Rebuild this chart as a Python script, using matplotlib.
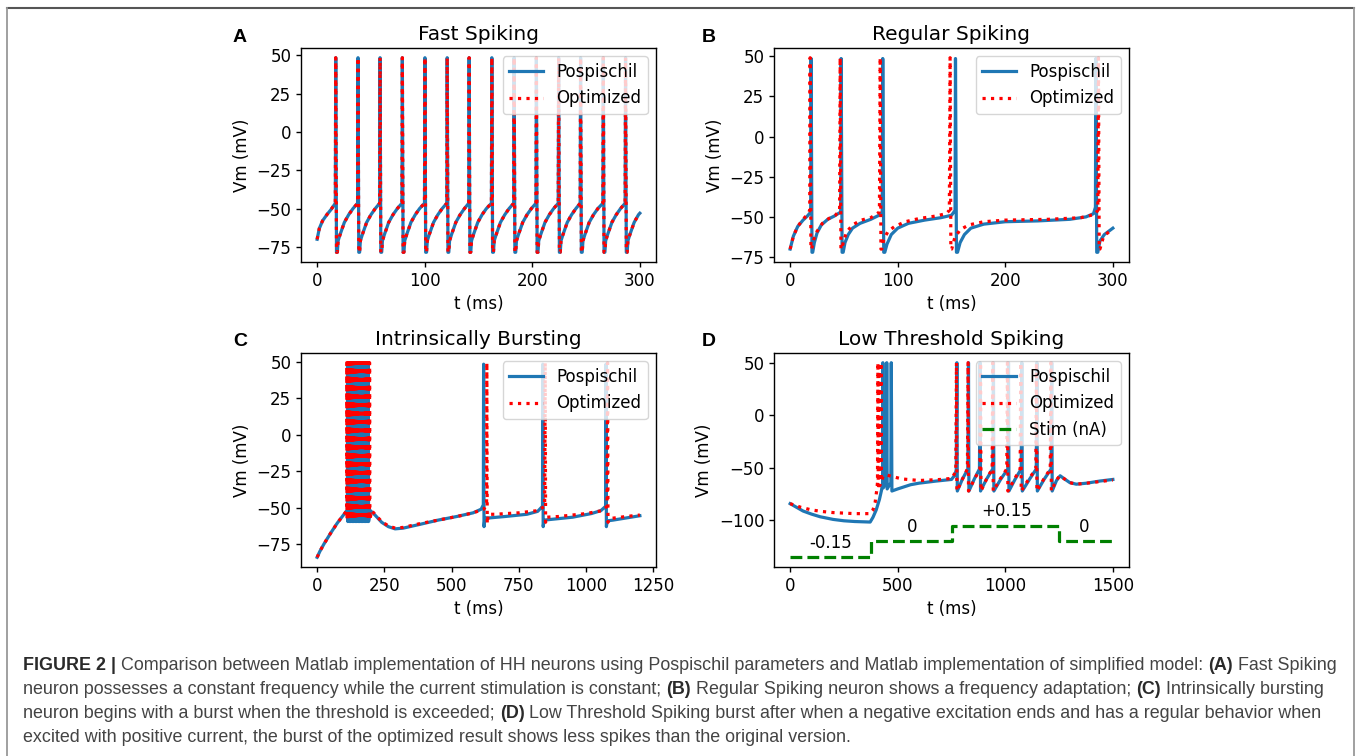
import numpy as np
import matplotlib
matplotlib.use("Agg")
import matplotlib.pyplot as plt
from matplotlib.lines import Line2D

BLUE = "#1f77b4"

# ---------------- A: fast spiking ----------------
fs_spikes = [17.3, 38.0, 58.5, 79.2, 100.2, 120.9, 141.3, 162.4, 183.1,
             203.8, 224.5, 244.9, 266.0, 286.7]
fs_opt_spikes = [17.3, 38.0, 58.5, 79.2, 100.2, 120.9, 141.3, 162.4, 183.1,
                 203.8, 224.5, 244.9, 266.0, 286.7]
fs_peak = 48.5
fs_start_t = [0, 2, 5, 9, 13]
fs_start_v = [-70, -63, -58, -54, -50.5]
fs_thr = -46.5
fs_rec_dt = [0.7, 1.5, 2.2, 4, 8, 12, 16]
fs_rec_v = [-78.5, -78.5, -71, -67, -59, -54, -50]
fs_end_t, fs_end_v = 300, -53

# ---------------- B: regular spiking ----------------
rs_spikes = [19.5, 47.4, 86.1, 153.7, 284.2]
rs_pts = [(0, -70), (3, -62), (7, -56), (12, -52), (16, -49.5), (19.1, -47),
          (20.3, -72), (21, -72), (22.5, -66), (25, -60), (29, -55), (35, -51.5),
          (41, -49.5), (47.0, -47), (48.3, -72), (49.3, -72), (51, -66), (54, -61),
          (58, -57), (65, -54), (75, -51.5), (85.6, -48), (87, -72), (88, -72),
          (90, -67), (94, -61), (100, -57), (110, -54), (125, -52), (140, -50.5),
          (150, -49), (153.3, -46), (154.6, -72), (155.6, -72), (158, -66),
          (162, -61), (168, -57), (180, -54.5), (200, -53), (230, -52.5),
          (260, -51.5), (275, -50), (282, -48), (283.8, -44), (285, -72),
          (286, -72), (288, -65), (292, -61), (300, -57)]
rs_opt_spikes = [18.6, 46.5, 83.7, 148.7, 286.6]
rs_opt_pts = [(0, -70), (3, -62), (7, -56), (12, -51.5), (16, -48.5), (18.2, -46),
              (19.3, -70), (20, -70), (22, -64), (25, -59), (30, -54), (36, -51),
              (42, -49), (46, -46), (47.2, -70), (48, -70), (50, -64), (53, -59),
              (58, -55), (66, -52), (75, -50.5), (83, -47), (84.4, -70), (85.2, -70),
              (87, -64), (91, -59), (97, -56), (107, -53), (120, -51), (135, -49.5),
              (145, -48), (148, -46), (149.4, -70), (150.2, -70), (153, -63),
              (158, -58), (166, -55), (180, -53), (200, -52), (240, -51.5),
              (270, -50.5), (283, -48.5), (286, -46), (287.3, -70), (288, -70),
              (291, -63), (295, -60), (300, -58)]
rs_peak, rs_opt_peak = 48.5, 49

# ---------------- C: intrinsically bursting ----------------
ib_pre = [(0, -84), (10, -80), (25, -75), (50, -67.5), (75, -60.5),
          (100, -54.5), (108, -52.5)]
ib_burst = [113, 118.5, 124, 129.5, 135, 140.5, 146, 151.5, 157, 162.5,
            168, 173.5, 179, 184.5, 190]
ib_opt_burst = [110, 115, 120, 125, 130, 135, 140, 145, 150, 155, 160,
                165, 170, 175, 180, 185, 190, 195]
ib_spikes = [619, 839, 1074]
ib_opt_spikes = [631, 848, 1080]
ib_post = [(198, -52), (215, -55), (240, -60), (265, -63), (290, -64.5),
           (320, -64), (380, -61.5), (450, -58.5), (520, -56), (580, -53.5),
           (610, -51), (618, -48), (620.5, -63), (624, -57), (640, -57),
           (700, -56), (780, -54.5), (820, -52.5), (838, -49), (840.5, -63),
           (844, -58.5), (870, -58), (950, -56.5), (1020, -54), (1055, -52),
           (1073, -49), (1075.5, -63), (1079, -59), (1100, -58.5), (1150, -57),
           (1200, -55.5)]
ib_opt_post = [(203, -52), (215, -54.5), (240, -59.5), (265, -62.5), (290, -64),
               (320, -63.5), (380, -61), (450, -58.5), (520, -56), (580, -53.5),
               (620, -51), (630, -48), (632.5, -61), (636, -54.5), (660, -54.5),
               (750, -53.5), (820, -52), (846, -49), (849.5, -60), (853, -56.5),
               (900, -56), (1000, -54), (1060, -52), (1078, -49), (1081.5, -60),
               (1085, -57.5), (1150, -56), (1200, -55)]
ib_thr, ib_trough, ib_opt_trough = -52, -59.5, -58
ib_peak, ib_opt_peak = 48.5, 49.5

# ---------------- D: low threshold spiking ----------------
lts_spikes = [431, 449, 470, 775, 829, 883, 945, 1015, 1077, 1147, 1216]
lts_pts = [(0, -84), (30, -87.5), (60, -91), (100, -94), (140, -96.5), (200, -99),
           (250, -100.3), (300, -101), (372, -101.5), (385, -97), (400, -90),
           (415, -80), (425, -71), (430, -64), (433, -69), (447, -64), (451, -70),
           (468, -64), (473, -72), (500, -70), (530, -68), (560, -66), (600, -64.5),
           (680, -62.5), (750, -61), (765, -57), (772, -52), (777, -72), (800, -61),
           (826, -51), (831, -72), (855, -61), (880, -51), (885, -72), (912, -61),
           (942, -51), (947, -72), (978, -61), (1012, -51), (1017, -72), (1045, -61),
           (1074, -51), (1079, -72), (1112, -61), (1144, -51), (1149, -72),
           (1180, -61), (1213, -51), (1218, -72), (1238, -62), (1255, -57.5),
           (1275, -60.5), (1300, -64), (1330, -65.5), (1380, -64.5), (1440, -62.5),
           (1500, -61)]
lts_opt_spikes = [408, 415, 422, 773, 827, 885, 942, 1010, 1072, 1145, 1212]
lts_opt_pts = [(0, -84), (50, -87.5), (100, -90), (150, -91.5), (200, -92.5),
               (300, -93.5), (370, -93.5), (385, -90), (395, -83), (402, -72),
               (406, -64), (409.5, -67), (413.5, -62), (416.5, -67), (420.5, -62),
               (424, -63), (432, -58), (445, -56.5), (470, -58), (520, -60.5),
               (600, -62), (700, -61), (750, -60), (763, -56), (770, -51), (775, -72),
               (800, -61), (824, -51), (829, -72), (856, -61), (882, -51), (887, -72),
               (912, -61), (939, -51), (944, -72), (975, -61), (1007, -51),
               (1012, -72), (1042, -61), (1069, -51), (1074, -72), (1108, -61),
               (1142, -51), (1147, -72), (1178, -61), (1209, -51), (1214, -72),
               (1236, -62), (1253, -57.5), (1275, -60.5), (1300, -64), (1330, -65.5),
               (1380, -64.5), (1440, -63), (1500, -61.5)]
lts_peak = 50
stim_t = [0, 375, 750, 1250, 1500]
stim_nA = [-0.15, 0, 0.15, 0, 0]
stim_labels = ["-0.15", "0", "+0.15", "0"]
stim_label_t = [186, 567, 1007, 1366]

caption = [
    [("FIGURE 2 |", True),
     ("Comparison between Matlab implementation of HH neurons using Pospischil "
      "parameters and Matlab implementation of simplified model:", False),
     ("(A)", True), ("Fast Spiking", False)],
    [("neuron possesses a constant frequency while the current stimulation is "
      "constant;", False), ("(B)", True),
     ("Regular Spiking neuron shows a frequency adaptation;", False),
     ("(C)", True), ("Intrinsically bursting", False)],
    [("neuron begins with a burst when the threshold is exceeded;", False),
     ("(D)", True),
     ("Low Threshold Spiking burst after when a negative excitation ends and has "
      "a regular behavior when", False)],
    [("excited with positive current, the burst of the optimized result shows "
      "less spikes than the original version.", False)],
]


def join(pts, spikes, peak):
    t = [p[0] for p in pts] + list(spikes)
    v = [p[1] for p in pts] + [peak] * len(spikes)
    o = np.argsort(t, kind="stable")
    return np.array(t)[o], np.array(v)[o]


def fs_points(spikes):
    pts = list(zip(fs_start_t, fs_start_v))
    for s in spikes:
        pts.append((s - 0.4, fs_thr))
        for dt, v in zip(fs_rec_dt, fs_rec_v):
            if s + dt < fs_end_t:
                pts.append((s + dt, v))
    pts.append((fs_end_t, fs_end_v))
    return pts


def burst_points(spikes, trough):
    pts = []
    for s in spikes:
        pts += [(s - 0.5, ib_thr), (s + 1.2, trough)]
    return pts


plt.rcParams.update({"font.size": 12, "axes.titlesize": 14.5,
                     "axes.linewidth": 1.0, "xtick.major.width": 1.0,
                     "ytick.major.width": 1.0, "legend.fontsize": 12})

W, H = 1358, 756
fig = plt.figure(figsize=(W / 100, H / 100), dpi=100)


def px_rect(l, t, r, b):
    return [l / W, 1 - b / H, (r - l) / W, (b - t) / H]


axA = fig.add_axes(px_rect(301, 48, 656, 262))
axB = fig.add_axes(px_rect(774, 48, 1129, 262))
axC = fig.add_axes(px_rect(301, 353, 656, 567))
axD = fig.add_axes(px_rect(774, 353, 1129, 567))

lw = 2.3
traces = [
    (axA, join(fs_points(fs_spikes), fs_spikes, fs_peak),
     join(fs_points(fs_opt_spikes), fs_opt_spikes, fs_peak), "Fast Spiking"),
    (axB, join(rs_pts, rs_spikes, rs_peak),
     join(rs_opt_pts, rs_opt_spikes, rs_opt_peak), "Regular Spiking"),
    (axC, join(ib_pre + burst_points(ib_burst, ib_trough) + ib_post,
               ib_burst + ib_spikes, ib_peak),
     join(ib_pre + burst_points(ib_opt_burst, ib_opt_trough) + ib_opt_post,
          ib_opt_burst + ib_opt_spikes, ib_opt_peak), "Intrinsically Bursting"),
    (axD, join(lts_pts, lts_spikes, lts_peak),
     join(lts_opt_pts, lts_opt_spikes, lts_peak), "Low Threshold Spiking"),
]
for ax, (t1, v1), (t2, v2), title in traces:
    ax.plot(t1, v1, color=BLUE, lw=lw, label="Pospischil")
    ax.plot(t2, v2, color="red", lw=lw, ls=":", label="Optimized")
    ax.set_title(title)
    ax.set_xlabel("t (ms)")
    ax.set_ylabel("Vm (mV)")

# stimulation trace, offset to sit below the voltage
stim_base, stim_gain = -120, 100
stim_y = [stim_base + stim_gain * s for s in stim_nA]
axD.plot(stim_t, stim_y, color="green", lw=lw, ls="--", drawstyle="steps-post",
         label="Stim (nA)")
for lab, x, s in zip(stim_labels, stim_label_t, stim_nA):
    axD.text(x, stim_base + stim_gain * s + 14, lab, ha="center", va="center",
             fontsize=12)

for ax in (axA, axB):
    ax.set_xticks([0, 100, 200, 300])
    ax.set_yticks([-75, -50, -25, 0, 25, 50])
axC.set_xticks([0, 250, 500, 750, 1000, 1250])
axC.set_yticks([-75, -50, -25, 0, 25, 50])
axD.set_xticks([0, 500, 1000, 1500])
axD.set_yticks([-100, -50, 0, 50])
for ax in (axA, axB, axC, axD):
    ax.legend(loc="upper right")

for lab, x, y in [("A", 240, 37), ("B", 709, 37), ("C", 240, 342), ("D", 709, 342)]:
    fig.text(x / W, 1 - y / H, lab, fontsize=14, fontweight="bold",
             family="Liberation Sans", ha="center", va="center")

# outer frame
fig.add_artist(Line2D([7 / W, 1354 / W], [1 - 8 / H] * 2, color="#555555", lw=1.5))
fig.add_artist(Line2D([7 / W] * 2, [0, 1 - 8 / H], color="#999999", lw=1.3))
fig.add_artist(Line2D([1354 / W] * 2, [0, 1 - 8 / H], color="#999999", lw=1.3))

# caption
cap_font = "Liberation Sans"
r = fig.canvas.get_renderer()


def measure(s, bold, size):
    t = fig.text(0, 0, s, fontsize=size, family=cap_font,
                 fontweight="bold" if bold else "normal")
    w = t.get_window_extent(r).width
    t.remove()
    return w


def line_width(parts, size):
    sp = measure("a a", False, size) - measure("aa", False, size)
    return sum(measure(s, b, size) for s, b in parts) + sp * (len(parts) - 1), sp


w0, _ = line_width(caption[0], 10)
cap_size = 10 * 1317 / w0
for parts, y in zip(caption, [663, 687, 711, 735]):
    _, sp = line_width(parts, cap_size)
    x = 23
    for s, b in parts:
        fig.text(x / W, 1 - y / H, s, fontsize=cap_size, family=cap_font,
                 fontweight="bold" if b else "normal",
                 color="#2a2a2a" if b else "#444444", va="center_baseline")
        x += measure(s, b, cap_size) + sp

fig.savefig("out.png", dpi=100)
